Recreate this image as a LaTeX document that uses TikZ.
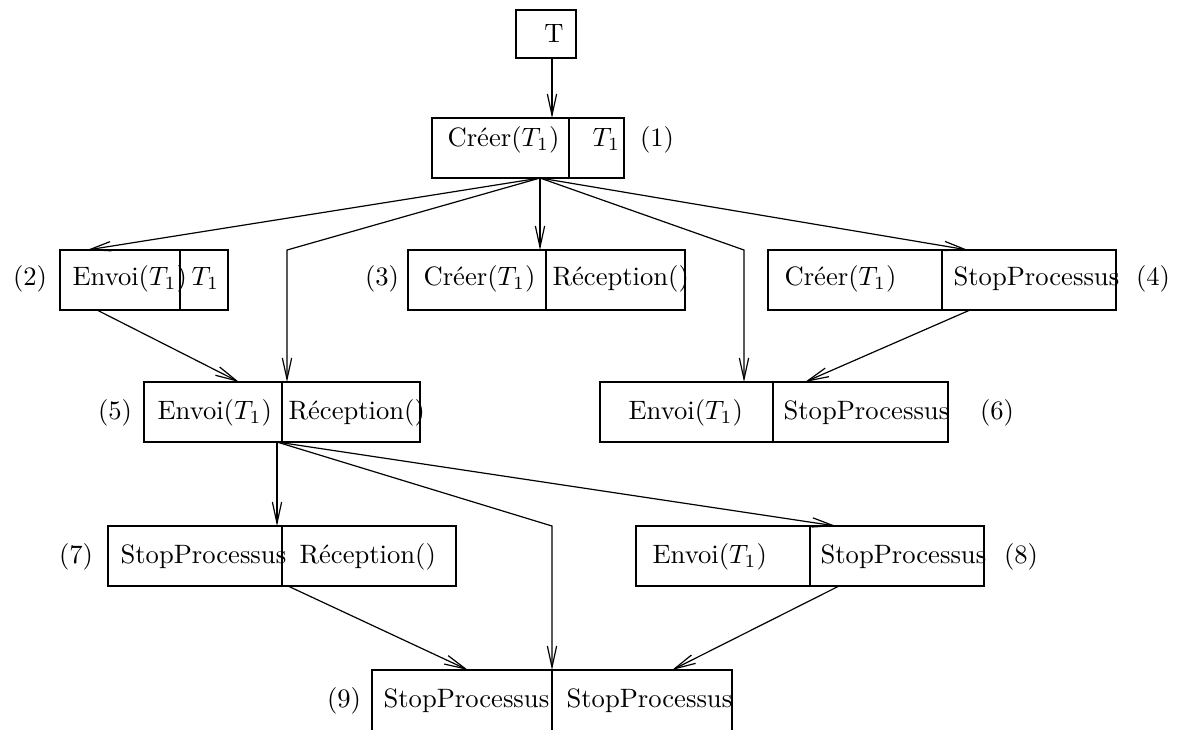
\documentclass[tikz,border=0pt]{standalone}
\usetikzlibrary{arrows.meta,calc,fit}

\begin{document}
\begin{tikzpicture}[
    x=0.376pt, y=-0.376pt, % one unit per pixel, y going down
    line width=0.45pt,
    box/.style={draw, inner sep=0pt, outer sep=0pt},
    txt/.style={anchor=base west, inner sep=0pt},
    num/.style={anchor=base, inner sep=0pt},
    arr/.style={-{Straight Barb[length=8pt,width=3.5pt]}}
]

\useasboundingbox (0,0) rectangle (1189,729);

% T
\node[box, fit={(516,10) (576,58)}] (t) {};
\node[num] (tt) at (554,42) {T};

% Box (1)
\node[box, fit={(432,118) (624,178)}] (b1) {};
\draw (b1.north west) ++(137,0) -- ++(0,60);
\node[txt] (b1a) at (447,146) {Créer($T_1$)};
\node[txt] (b1b) at (592,146) {$T_1$};
\node[num] (n1) at (657,146) {(1)};

% Box (2)
\node[box, fit={(60,250) (228,310)}] (b2) {};
\draw (b2.north west) ++(120,0) -- ++(0,60);
\node[txt] (b2a) at (72,285) {Envoi($T_1$)};
\node[txt] (b2b) at (191,285) {$T_1$};
\node[num] (n2) at (30,285) {(2)};

% Box (3)
\node[box, fit={(408,250) (685,310)}] (b3) {};
\draw (b3.north west) ++(138,0) -- ++(0,60);
\node[txt] (b3a) at (423,285) {Créer($T_1$)};
\node[txt] (b3b) at (552,285) {Réception()};
\node[num] (n3) at (382,285) {(3)};

% Box (4)
\node[box, fit={(768,250) (1116,310)}] (b4) {};
\draw (b4.north west) ++(174,0) -- ++(0,60);
\node[txt] (b4a) at (784,285) {Créer($T_1$)};
\node[txt] (b4b) at (953,285) {StopProcessus};
\node[num] (n4) at (1153,285) {(4)};

% Box (5)
\node[box, fit={(144,382) (420,442)}] (b5) {};
\draw (b5.north west) ++(138,0) -- ++(0,60);
\node[txt] (b5a) at (157,419) {Envoi($T_1$)};
\node[txt] (b5b) at (288,419) {Réception()};
\node[num] (n5) at (115,419) {(5)};

% Box (6)
\node[box, fit={(600,382) (948,442)}] (b6) {};
\draw (b6.north west) ++(173,0) -- ++(0,60);
\node[txt] (b6a) at (628,419) {Envoi($T_1$)};
\node[txt] (b6b) at (783,419) {StopProcessus};
\node[num] (n6) at (997,419) {(6)};

% Box (7)
\node[box, fit={(108,526) (456,586)}] (b7) {};
\draw (b7.north west) ++(174,0) -- ++(0,60);
\node[txt] (b7a) at (120,563) {StopProcessus};
\node[txt] (b7b) at (299,563) {Réception()};
\node[num] (n7) at (76,563) {(7)};

% Box (8)
\node[box, fit={(636,526) (984,586)}] (b8) {};
\draw (b8.north west) ++(174,0) -- ++(0,60);
\node[txt] (b8a) at (652,563) {Envoi($T_1$)};
\node[txt] (b8b) at (820,563) {StopProcessus};
\node[num] (n8) at (1021,563) {(8)};

% Box (9), cut by the page edge
\node[box, fit={(372,670) (732,790)}] (b9) {};
\draw (b9.north west) ++(180,0) -- ++(0,120);
\node[txt] (b9a) at (383,707) {StopProcessus};
\node[txt] (b9b) at (566,707) {StopProcessus};
\node[num] (n9) at (344,707) {(9)};

% connectors
\coordinate (o1) at ($(b1.south west)+(108,0)$);
\coordinate (o5) at ($(b5.south west)+(133,0)$);
\coordinate (k5) at (287,250);
\coordinate (k6) at (744,250);
\coordinate (k9) at (552,526);

\draw[arr] ($(t.south west)+(36,0)$) -- ($(b1.north west)+(120,0)$);
\draw[arr] (o1) -- ($(b2.north west)+(27,0)$);
\draw[arr] (o1) -- (k5) -- ($(b5.north west)+(143,0)$);
\draw[arr] (o1) -- ($(b3.north west)+(132,0)$);
\draw[arr] (o1) -- (k6) -- ($(b6.north west)+(144,0)$);
\draw[arr] (o1) -- ($(b4.north west)+(200,0)$);
\draw[arr] ($(b2.south west)+(37,0)$) -- ($(b5.north west)+(95,0)$);
\draw[arr] ($(b4.south west)+(202,0)$) -- ($(b6.north west)+(205,0)$);
\draw[arr] (o5) -- ($(b7.north west)+(169,0)$);
\draw[arr] (o5) -- (k9) -- ($(b9.north west)+(180,0)$);
\draw[arr] (o5) -- ($(b8.north west)+(200,0)$);
\draw[arr] ($(b7.south west)+(180,0)$) -- ($(b9.north west)+(96,0)$);
\draw[arr] ($(b8.south west)+(203,0)$) -- ($(b9.north west)+(300,0)$);

\end{tikzpicture}
\end{document}
